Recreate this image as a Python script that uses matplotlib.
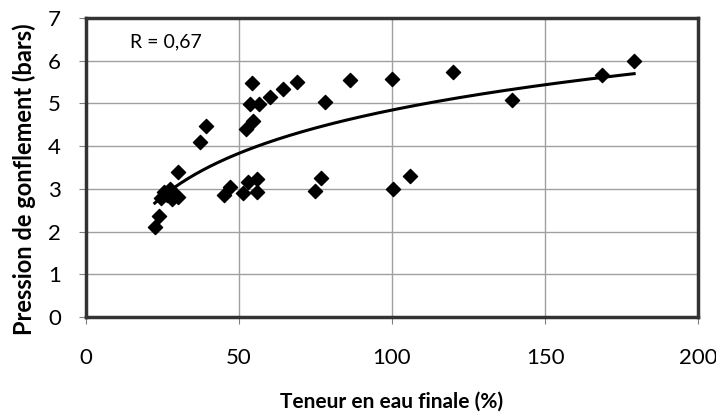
import numpy as np
import matplotlib
matplotlib.use("Agg")
import matplotlib.pyplot as plt

# Teneur en eau finale (%) vs pression de gonflement (bars)
teneur = [22.5, 23.9, 24.5, 25.5, 26.5, 27.5, 28.0, 29.0, 30.0, 30.2,
          37.3, 39.1, 45.1, 47.1, 51.2, 52.2, 52.8, 53.6, 54.1, 54.7,
          55.8, 55.8, 56.5, 60.3, 64.5, 68.8, 75.0, 76.9, 78.1, 86.3,
          100.1, 100.4, 105.9, 119.8, 139.3, 168.7, 179.1]
pression = [2.11, 2.37, 2.78, 2.92, 2.85, 3.00, 2.75, 2.85, 2.80, 3.39,
            4.09, 4.48, 2.86, 3.05, 2.90, 4.40, 3.15, 4.99, 5.47, 4.59,
            2.93, 3.23, 4.99, 5.14, 5.34, 5.51, 2.96, 3.26, 5.04, 5.55,
            5.57, 2.99, 3.30, 5.73, 5.08, 5.67, 5.98]

# logarithmic trend line y = a ln(x) + b
trend_a = 1.46
trend_b = -1.88
r_label = "R = 0,67"

x_ticks = [0, 50, 100, 150, 200]
y_ticks = [0, 1, 2, 3, 4, 5, 6, 7]

plt.rcParams["font.family"] = ["Lato", "DejaVu Sans"]

fig = plt.figure(figsize=(7.16, 4.16), dpi=100)
ax = fig.add_axes([0.120, 0.238, 0.855, 0.719])

ax.scatter(teneur, pression, marker="D", s=52, color="black", zorder=3)

xs = np.linspace(min(teneur), max(teneur), 200)
ax.plot(xs, trend_a * np.log(xs) + trend_b, color="black", linewidth=2.2, zorder=4)

ax.text(14.4, 6.45, r_label, fontsize=14, ha="left", va="center")

ax.set_xlim(0, 200)
ax.set_ylim(0, 7)
ax.set_xticks(x_ticks)
ax.set_yticks(y_ticks)
ax.grid(True, color="#a0a0a0", linewidth=1)
ax.set_axisbelow(True)
ax.tick_params(labelsize=16, length=5, color="#808080", direction="out")
ax.tick_params(axis="x", pad=17)
ax.tick_params(axis="y", pad=13)
for sp in ax.spines.values():
    sp.set_linewidth(2.5)
    sp.set_color("#333333")

ax.set_xlabel("Teneur en eau finale (%)", fontsize=15, fontweight="bold", va="center")
ax.xaxis.set_label_coords(0.499, -0.284)
ax.set_ylabel("Pression de gonflement (bars)", fontsize=17, fontweight="bold", va="center")
ax.yaxis.set_label_coords(-0.100, 0.462)

plt.savefig("out.png", dpi=100)
